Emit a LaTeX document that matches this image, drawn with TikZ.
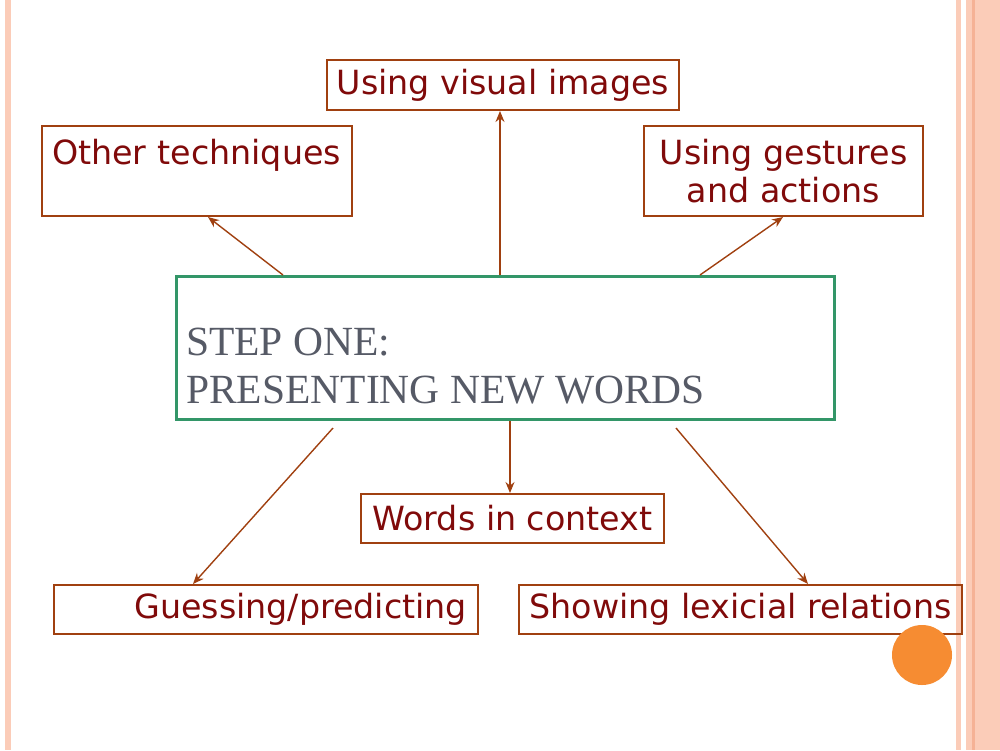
\documentclass[tikz,border=0pt]{standalone}
\usepackage{fontspec}
\setmainfont{Liberation Serif}
\newfontfamily\boxfont{DejaVu Sans}
\usetikzlibrary{arrows.meta}
\definecolor{boxred}{RGB}{160,64,16}
\definecolor{txtred}{RGB}{128,10,10}
\definecolor{stepgreen}{RGB}{51,150,104}
\definecolor{stepgrey}{RGB}{86,90,102}
\definecolor{stripe}{RGB}{251,204,184}
\definecolor{stripedark}{RGB}{245,178,150}
\definecolor{dotorange}{RGB}{246,140,50}
\tikzset{
  wordbox/.style={draw=boxred,line width=2pt,inner sep=0pt,anchor=north west,
    text=txtred,font=\boxfont\fontsize{33.3}{38}\selectfont},
  link/.style={->,draw=boxred,line width=1.4pt}
}

\begin{document}
\begin{tikzpicture}[x=1pt,y=-1pt,>={Stealth[length=11pt,width=9pt]}]
            \useasboundingbox (0,0) rectangle (1000,750);
            % side stripes
            \fill[stripe] (5,0) rectangle (11,750);
            \fill[stripe] (956,0) rectangle (961,750);
            \fill[stripe] (966,0) rectangle (1000,750);
            \fill[stripedark] (972,0) rectangle (975,750);
            % boxes
            \node[draw=stepgreen,line width=3pt,anchor=north west,inner sep=0pt,
                minimum width=658pt,minimum height=143pt] (step) at (175,275) {};
            \node[anchor=base west,inner sep=0pt,text=stepgrey,align=left,
                font=\fontsize{41.5}{48}\selectfont] (steptext) at (186,403)
                {STEP ONE:\\PRESENTING NEW WORDS};
            \node[wordbox,minimum width=352pt,minimum height=50pt] (vis) at (326,59)
                {Using visual images};
            \node[wordbox,minimum width=310pt,inner xsep=10pt,text width=290pt,align=left,
                text height=38pt,text depth=52pt] (other) at (41,125) {Other techniques};
            \node[wordbox,minimum width=279pt,minimum height=90pt,align=center] (gest) at (643,125)
                {Using gestures\\and actions};
            \node[wordbox,minimum width=303pt,minimum height=49pt] (ctx) at (360,493)
                {Words in context};
            \node[wordbox,minimum width=424pt,minimum height=49pt,inner xsep=11pt,
                text width=402pt,align=right] (guess) at (53,584) {Guessing/predicting};
            \node[wordbox,minimum width=443pt,minimum height=49pt] (show) at (518,584)
                {Showing lexicial relations};
            % arrows
            \draw[link] ([xshift=325pt]step.north west) -- ([xshift=174pt]vis.south west);
            \draw[link] ([xshift=108pt]step.north west) -- ([xshift=167pt]other.south west);
            \draw[link] ([xshift=525pt]step.north west) -- ([xshift=140pt]gest.south west);
            \draw[link] ([xshift=335pt]step.south west) -- ([xshift=150pt]ctx.north west);
            \draw[link] ([xshift=158pt,yshift=-7pt]step.south west) -- ([xshift=140pt]guess.north west);
            \draw[link] ([xshift=501pt,yshift=-7pt]step.south west) -- ([xshift=290pt]show.north west);
            \fill[dotorange] (922,655) circle (30);
        \end{tikzpicture}
\end{document}
